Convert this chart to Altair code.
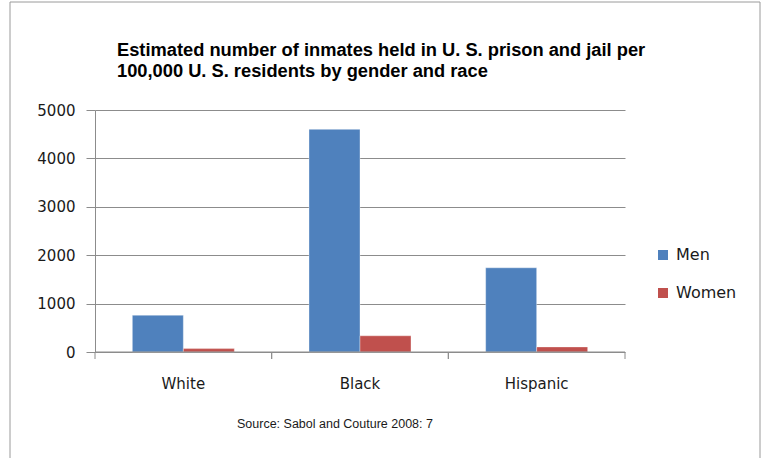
import altair as alt
import pandas as pd

races = ["White", "Black", "Hispanic"]
men = [760, 4600, 1740]
women = [70, 335, 105]
genders = ["Men", "Women"]
colors = ["#4F81BD", "#C0504D"]
title_lines = ["Estimated number of inmates held in U. S. prison and jail per",
               "100,000 U. S. residents by gender and race"]
source_text = "Source: Sabol and Couture 2008: 7"

rows = []
for r, m, w in zip(races, men, women):
    rows.append({"race": r, "gender": "Men", "value": m})
    rows.append({"race": r, "gender": "Women", "value": w})
df = pd.DataFrame(rows)
cats = pd.DataFrame({"race": races})
one = pd.DataFrame({"k": [0]})

W, H = 530, 242
GRID = "#8c8c8c"

xscale = alt.Scale(domain=races, paddingInner=0, paddingOuter=0)

bars = alt.Chart(df).mark_bar(stroke="#ffffff", strokeWidth=0.6, strokeOpacity=0.6).encode(
    x=alt.X("race:N", scale=xscale, sort=races,
            axis=alt.Axis(title=None, labelAngle=0, ticks=False, tickSize=0, domain=False,
                          labelFont="DejaVu Sans", labelFontSize=15, labelColor="#1a1a1a",
                          labelPadding=24)),
    xOffset=alt.XOffset("gender:N", scale=alt.Scale(domain=genders, paddingInner=0, paddingOuter=0.732)),
    y=alt.Y("value:Q", scale=alt.Scale(domain=[0, 5000], nice=False),
            axis=alt.Axis(title=None, values=[0, 1000, 2000, 3000, 4000, 5000], format="d",
                          labelFont="DejaVu Sans", labelFontSize=15, labelColor="#1a1a1a",
                          tickSize=9, tickColor=GRID, labelPadding=11,
                          domainColor=GRID, gridColor=GRID, grid=True)),
    color=alt.Color("gender:N", scale=alt.Scale(domain=genders, range=colors),
                    legend=alt.Legend(title=None, orient="none", legendX=560, legendY=137,
                                      symbolType="square", symbolSize=100, symbolStrokeWidth=0,
                                      labelFont="DejaVu Sans", labelFontSize=16, labelColor="#1a1a1a",
                                      rowPadding=22, labelOffset=5, padding=0)),
)

tick0 = alt.Chart(cats).mark_rule(color=GRID).encode(
    x=alt.X("race:N", bandPosition=0, scale=xscale, sort=races),
    y=alt.value(H), y2=alt.value(H + 7))
tick1 = alt.Chart(cats).mark_rule(color=GRID).encode(
    x=alt.X("race:N", bandPosition=1, scale=xscale, sort=races),
    y=alt.value(H), y2=alt.value(H + 7))
baseline = alt.Chart(one).mark_rule(color=GRID).encode(
    x=alt.value(0), x2=alt.value(W), y=alt.value(H))

border = alt.Chart(one).mark_rect(fill=None, stroke="#9a9a9a", strokeWidth=1).encode(
    x=alt.value(-85), x2=alt.value(665), y=alt.value(-108), y2=alt.value(370))

title = alt.Chart(one).mark_text(align="left", baseline="alphabetic", font="Liberation Sans",
                                 fontWeight="bold", fontSize=18.3, lineHeight=21, color="#000000").encode(
    x=alt.value(22), y=alt.value(-54), text=alt.value(title_lines))

source = alt.Chart(one).mark_text(align="left", baseline="alphabetic", font="Liberation Sans",
                                  fontSize=12.5, color="#1a1a1a").encode(
    x=alt.value(142), y=alt.value(318), text=alt.value(source_text))

chart = alt.layer(border, bars, baseline, tick0, tick1, title, source).properties(
    width=W, height=H,
    autosize=alt.AutoSizeParams(type="none"),
    padding={"left": 95, "top": 110, "right": 139, "bottom": 106},
    background="#ffffff",
).configure_view(stroke=None)

chart.save("out.html", embed_options={"renderer": "svg", "actions": False})
